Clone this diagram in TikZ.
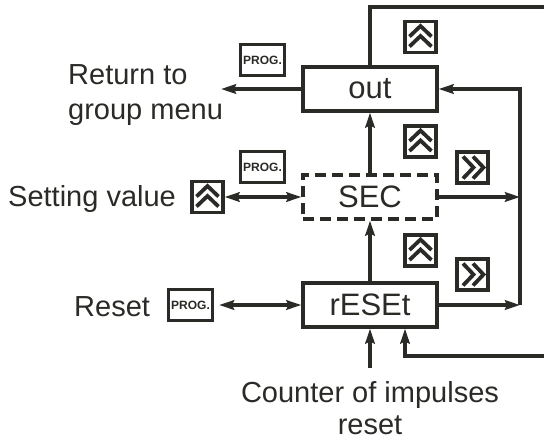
\documentclass[tikz,border=0pt]{standalone}
\usepackage{fontspec}
\setmainfont{Liberation Sans}
\usetikzlibrary{arrows.meta,positioning}
\definecolor{ink}{RGB}{42,42,38}
\tikzset{
  >={Stealth[length=15pt,width=9.5pt,inset=2pt]},
  menu/.style={draw=ink,line width=3.2pt,minimum width=134pt,minimum height=44pt,
    inner sep=0pt,font=\fontsize{31}{31}\selectfont,text=ink},
  menu dashed/.style={menu,dash pattern=on 11pt off 6pt},
  key/.style={draw=ink,line width=3.2pt,fill=white,minimum size=31pt,inner sep=0pt},
  prog/.style={draw=ink,line width=3.2pt,minimum width=44pt,minimum height=31pt,
    inner sep=0pt,font=\fontsize{12}{12}\selectfont\bfseries,text=ink},
  lbl/.style={font=\fontsize{29}{35}\selectfont,text=ink,inner sep=0pt},
  flow/.style={draw=ink,line width=3.2pt},
  % key glyphs
  pics/upup/.style={code={
    \draw[ink,line width=3.8pt] (-11,-0.5) -- (0,-11) -- (11,-0.5) (-11,9.5) -- (0,-1) -- (11,9.5);
  }},
  pics/fwdfwd/.style={code={
    \draw[ink,line width=3.8pt] (0.5,-11) -- (11,0) -- (0.5,11) (-9.5,-11) -- (1,0) -- (-9.5,11);
  }},
}
\begin{document}
\begin{tikzpicture}[x=1pt,y=-1pt]
  \useasboundingbox (0,0) rectangle (544,440);
  % menu items
  \node[menu] (out) at (370,89) {out};
  \node[menu dashed] (sec) at (370,197) {SEC};
  \node[menu] (rst) at (370,305) {rESEt};
  % keys
  \node[key] (upOut) at (420.5,37) {}; \pic at (upOut) {upup};
  \node[key] (upSec) at (420.5,141.5) {}; \pic at (upSec) {upup};
  \node[key] (upRst) at (420.5,250.5) {}; \pic at (upRst) {upup};
  \node[key] (setKey) at (207.5,197) {}; \pic at (setKey) {upup};
  \node[key] (fwdSec) at (472.5,167.5) {}; \pic at (fwdSec) {fwdfwd};
  \node[key] (fwdRst) at (472.5,274.5) {}; \pic at (fwdRst) {fwdfwd};
  \node[prog] (progOut) at (262.5,60) {PROG.};
  \node[prog] (progSec) at (262.5,167) {PROG.};
  \node[prog] (progRst) at (190.5,305) {PROG.};
  % labels
  \node[lbl,anchor=north west,align=left] (ret) at (68,64) {Return to\\group menu};
  \node[lbl,anchor=base west] (setv) at (8,206) {Setting value};
  \node[lbl,anchor=base west] (rstl) at (74,316) {Reset};
  \node[lbl,align=center,inner ysep=13pt,font=\fontsize{29}{32}\selectfont] (cnt) at (370,408) {Counter of impulses\\reset};
  % connectors
  \coordinate (topEnd) at (544,7);
  \coordinate (retEnd) at (221,89);
  \coordinate (busTop) at (520,89);
  \coordinate (busBot) at (520,305);
  \coordinate (loopIn) at (544,356);
  \draw[flow] (out.north) |- (topEnd);
  \draw[flow,->] (out.west) -- (retEnd);
  \draw[flow,->] (busBot) -- (busTop) -- (out.east);
  \draw[flow,->] (sec) -- (out);
  \draw[flow,->] (rst) -- (sec);
  \draw[flow,->] (sec.east) -- (sec.east -| busBot);
  \draw[flow,->] (rst.east) -- (busBot);
  \draw[flow,<->] (setKey) -- (sec);
  \draw[flow,<->,shorten <=5pt] (progRst) -- (rst);
  \draw[flow,->] (cnt) -- (rst);
  \draw[flow,->] (loopIn) -| ([xshift=35pt]rst.south);
\end{tikzpicture}
\end{document}
